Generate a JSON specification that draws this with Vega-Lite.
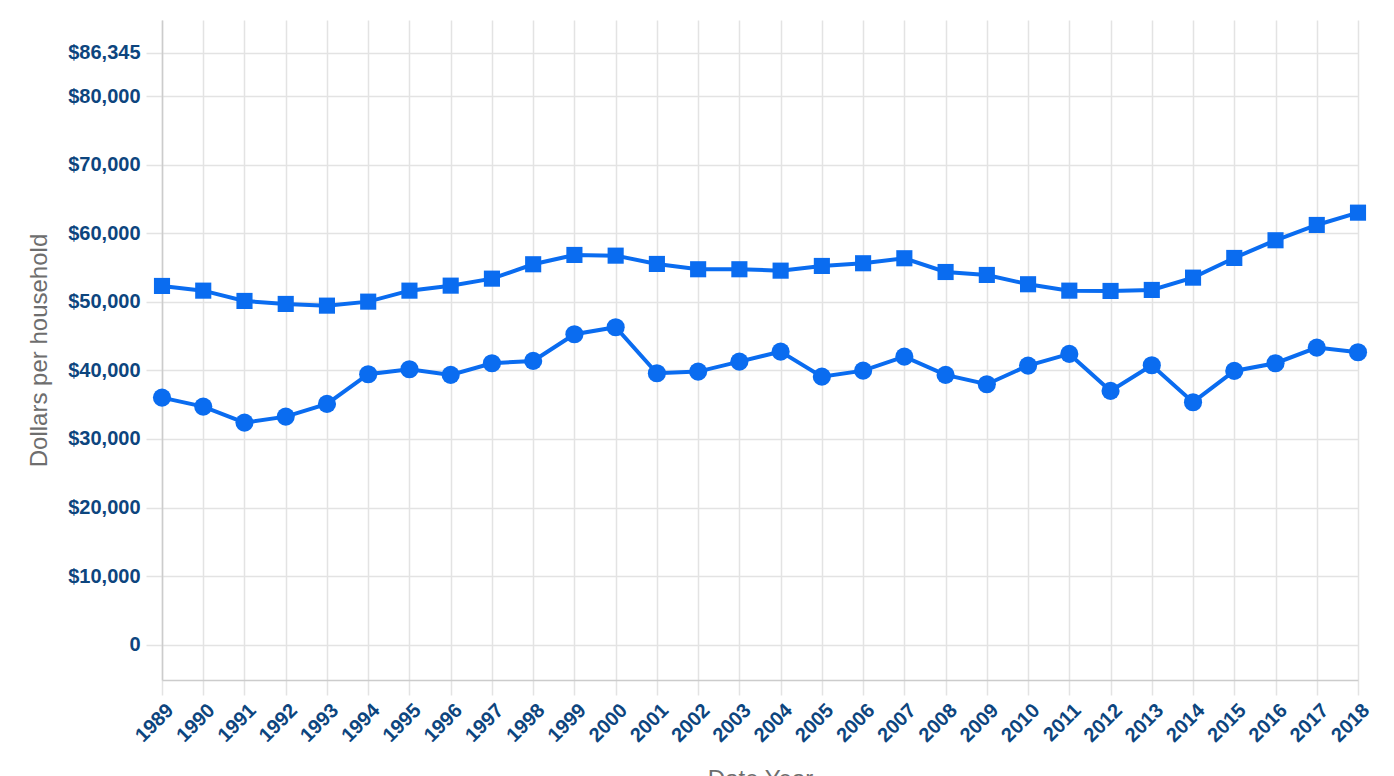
{
  "$schema": "https://vega.github.io/schema/vega-lite/v6.json",
  "autosize": "none",
  "padding": {"left": 162, "top": 20, "right": 36, "bottom": 96},
  "width": 1196,
  "height": 660,
  "config": {
    "font": "Liberation Sans",
    "view": {"stroke": null},
    "axis": {
      "gridColor": "#e3e3e3",
      "gridWidth": 1.5,
      "tickColor": "#e3e3e3",
      "tickWidth": 1.5,
      "domainColor": "#cccccc",
      "domainWidth": 1.5,
      "labelColor": "#0d457e",
      "labelFont": "Liberation Sans",
      "labelFontWeight": "bold",
      "labelFontSize": 20,
      "titleColor": "#6e6e6e",
      "titleFont": "Liberation Sans",
      "titleFontWeight": "normal",
      "titleFontSize": 24
    }
  },
  "data": {
    "values": [
      {"year": "1989", "series": "Series 1", "value": 52315},
      {"year": "1990", "series": "Series 1", "value": 51631},
      {"year": "1991", "series": "Series 1", "value": 50129},
      {"year": "1992", "series": "Series 1", "value": 49692},
      {"year": "1993", "series": "Series 1", "value": 49444},
      {"year": "1994", "series": "Series 1", "value": 50027},
      {"year": "1995", "series": "Series 1", "value": 51631},
      {"year": "1996", "series": "Series 1", "value": 52360},
      {"year": "1997", "series": "Series 1", "value": 53381},
      {"year": "1998", "series": "Series 1", "value": 55480},
      {"year": "1999", "series": "Series 1", "value": 56836},
      {"year": "2000", "series": "Series 1", "value": 56734},
      {"year": "2001", "series": "Series 1", "value": 55524},
      {"year": "2002", "series": "Series 1", "value": 54751},
      {"year": "2003", "series": "Series 1", "value": 54751},
      {"year": "2004", "series": "Series 1", "value": 54547},
      {"year": "2005", "series": "Series 1", "value": 55232},
      {"year": "2006", "series": "Series 1", "value": 55626},
      {"year": "2007", "series": "Series 1", "value": 56355},
      {"year": "2008", "series": "Series 1", "value": 54350},
      {"year": "2009", "series": "Series 1", "value": 53920},
      {"year": "2010", "series": "Series 1", "value": 52564},
      {"year": "2011", "series": "Series 1", "value": 51631},
      {"year": "2012", "series": "Series 1", "value": 51587},
      {"year": "2013", "series": "Series 1", "value": 51733},
      {"year": "2014", "series": "Series 1", "value": 53527},
      {"year": "2015", "series": "Series 1", "value": 56399},
      {"year": "2016", "series": "Series 1", "value": 58979},
      {"year": "2017", "series": "Series 1", "value": 61210},
      {"year": "2018", "series": "Series 1", "value": 63004},
      {"year": "1989", "series": "Series 2", "value": 36030},
      {"year": "1990", "series": "Series 2", "value": 34718},
      {"year": "1991", "series": "Series 2", "value": 32385},
      {"year": "1992", "series": "Series 2", "value": 33260},
      {"year": "1993", "series": "Series 2", "value": 35111},
      {"year": "1994", "series": "Series 2", "value": 39442},
      {"year": "1995", "series": "Series 2", "value": 40171},
      {"year": "1996", "series": "Series 2", "value": 39340},
      {"year": "1997", "series": "Series 2", "value": 41046},
      {"year": "1998", "series": "Series 2", "value": 41381},
      {"year": "1999", "series": "Series 2", "value": 45274},
      {"year": "2000", "series": "Series 2", "value": 46295},
      {"year": "2001", "series": "Series 2", "value": 39588},
      {"year": "2002", "series": "Series 2", "value": 39822},
      {"year": "2003", "series": "Series 2", "value": 41280},
      {"year": "2004", "series": "Series 2", "value": 42737},
      {"year": "2005", "series": "Series 2", "value": 39092},
      {"year": "2006", "series": "Series 2", "value": 39967},
      {"year": "2007", "series": "Series 2", "value": 42008},
      {"year": "2008", "series": "Series 2", "value": 39340},
      {"year": "2009", "series": "Series 2", "value": 37984},
      {"year": "2010", "series": "Series 2", "value": 40697},
      {"year": "2011", "series": "Series 2", "value": 42402},
      {"year": "2012", "series": "Series 2", "value": 37007},
      {"year": "2013", "series": "Series 2", "value": 40754},
      {"year": "2014", "series": "Series 2", "value": 35360},
      {"year": "2015", "series": "Series 2", "value": 39924},
      {"year": "2016", "series": "Series 2", "value": 41046},
      {"year": "2017", "series": "Series 2", "value": 43320},
      {"year": "2018", "series": "Series 2", "value": 42650}
    ]
  },
  "encoding": {
    "x": {
      "field": "year",
      "type": "ordinal",
      "scale": {"type": "point", "padding": 0},
      "axis": {
        "title": "Date Year",
        "grid": true,
        "labelAngle": -45,
        "labelAlign": "right",
        "labelBaseline": "middle",
        "tickSize": 15,
        "labelOffset": 8,
        "labelPadding": 12,
        "titlePadding": 22
      }
    },
    "y": {
      "field": "value",
      "type": "quantitative",
      "scale": {"domain": [-5150, 91100], "nice": false, "zero": false},
      "axis": {
        "title": "Dollars per household",
        "values": [0, 10000, 20000, 30000, 40000, 50000, 60000, 70000, 80000, 86345],
        "labelExpr": "datum.value == 0 ? '0' : '$' + format(datum.value, ',')",
        "tickSize": 16,
        "labelPadding": 6,
        "titlePadding": 16
      }
    }
  },
  "layer": [
    {
      "mark": {"type": "line", "color": "#0a6cf0", "strokeWidth": 4},
      "encoding": {"detail": {"field": "series", "type": "nominal"}}
    },
    {
      "mark": {"type": "point", "filled": true, "opacity": 1, "color": "#0a6cf0"},
      "encoding": {
        "shape": {
          "field": "series",
          "type": "nominal",
          "scale": {"domain": ["Series 1", "Series 2"], "range": ["square", "circle"]},
          "legend": null
        },
        "size": {
          "field": "series",
          "type": "nominal",
          "scale": {"domain": ["Series 1", "Series 2"], "range": [260, 330]},
          "legend": null
        }
      }
    }
  ]
}
